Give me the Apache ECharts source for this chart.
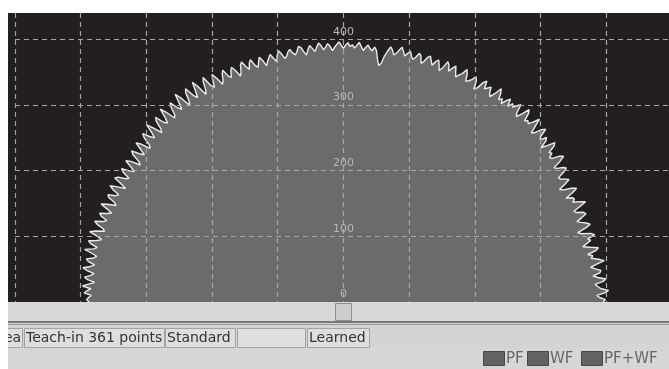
<!DOCTYPE html>
<html>
<head>
<meta charset="utf-8">
<script src="https://cdn.jsdelivr.net/npm/echarts@6/dist/echarts.min.js"></script>
<style>
  html, body { margin: 0; padding: 0; background: #fff; }
  #chart { width: 669px; height: 369px; }
</style>
</head>
<body>
<div id="chart"></div>
<script>
// teach-in profile: radius per sample, 361 samples from 0 deg (right) to 180 deg (left)
const radii = [
  395, 399, 390, 386, 398, 404, 392, 388, 384, 396, 401, 389, 382, 393, 395, 387, 380, 390, 402, 394,
  383, 386, 379, 392, 397, 385, 374, 381, 388, 384, 396, 391, 377, 372, 386, 394, 389, 382, 376, 385,
  393, 390, 380, 377, 389, 399, 391, 381, 385, 383, 374, 387, 395, 388, 376, 371, 382, 391, 386, 380,
  378, 389, 396, 392, 384, 380, 393, 402, 397, 386, 383, 390, 387, 399, 403, 391, 382, 394, 398, 388,
  392, 405, 400, 389, 385, 396, 408, 398, 391, 394, 390, 402, 407, 395, 386, 391, 404, 399, 393, 397,
  389, 400, 395, 386, 393, 388, 398, 404, 392, 384, 388, 397, 393, 389, 401, 396, 384, 380, 393, 398,
  391, 387, 384, 395, 401, 392, 388, 383, 390, 398, 393, 386, 395, 399, 388, 381, 389, 396, 392, 385,
  391, 397, 394, 386, 382, 393, 396, 389, 384, 388, 395, 391, 386, 392, 398, 393, 387, 384, 391, 395,
  388, 380, 368, 364, 373, 386, 391, 385, 388, 393, 389, 384, 390, 396, 391, 387, 392, 389, 395, 391,
  386, 391, 396, 392, 388, 383, 390, 394, 389, 385, 392, 396, 390, 384, 389, 394, 388, 380, 386, 393,
  395, 388, 383, 387, 393, 390, 384, 381, 389, 395, 389, 380, 386, 393, 392, 384, 378, 388, 394, 387,
  380, 385, 395, 391, 382, 388, 397, 393, 383, 378, 389, 396, 391, 382, 386, 398, 393, 384, 379, 391,
  400, 392, 381, 387, 403, 397, 385, 379, 395, 406, 393, 382, 389, 404, 399, 386, 380, 396, 407, 394,
  383, 389, 402, 396, 384, 380, 394, 405, 391, 382, 387, 401, 396, 383, 378, 392, 403, 390, 381, 388,
  399, 393, 380, 376, 390, 398, 387, 377, 384, 396, 391, 378, 373, 388, 395, 385, 375, 382, 394, 389,
  377, 381, 392, 396, 384, 374, 386, 397, 390, 379, 383, 394, 391, 380, 376, 389, 398, 387, 378, 385,
  395, 391, 381, 386, 398, 393, 383, 379, 392, 401, 389, 380, 387, 399, 395, 384, 389, 402, 391, 382,
  386, 397, 393, 383, 389, 400, 393, 382, 387, 396, 391, 380, 389, 398, 385, 391, 395, 384, 388, 391,
  387
];
// sample angles, half a degree apart
const angles = radii.map((r, i) => i * 0.5);

const statusPanels = [
  { text: 'ea', x: 2, w: 20 },
  { text: 'Teach-in 361 points', x: 24, w: 140 },
  { text: 'Standard', x: 165, w: 70 },
  { text: '', x: 237, w: 68 },
  { text: 'Learned', x: 307, w: 62 }
];
const legendItems = [
  { text: 'PF', x: 483 },
  { text: 'WF', x: 527 },
  { text: 'PF+WF', x: 581 }
];

const FONT = "'DejaVu Sans', 'Liberation Sans', sans-serif";
const COLORS = {
  bg: '#231f20',
  fill: '#6b6b6b',
  line: '#ebebeb',
  grid: '#a6a6a6',
  label: '#b8b8b8',
  panel: '#d4d4d4',
  text: '#333333'
};

// pixel layout: same px per unit on both axes
const Y0 = 302;
const X0 = 343.4;
const PX = 289 / 440;

const chart = echarts.init(document.getElementById('chart'));

const graphics = [
  { type: 'rect', shape: { x: 0, y: 0, width: 669, height: 13 }, style: { fill: '#fff' }, z: 100 },
  // scrollbar
  { type: 'rect', shape: { x: 8, y: 302, width: 661, height: 20 }, style: { fill: '#d8d8d8' }, z: 100 },
  { type: 'rect', shape: { x: 335.5, y: 303.5, width: 16, height: 17 }, style: { fill: '#cdcdcd', stroke: '#8f8f8f', lineWidth: 1 }, z: 101 },
  { type: 'rect', shape: { x: 8, y: 321, width: 661, height: 1.5 }, style: { fill: '#777' }, z: 101 },
  { type: 'rect', shape: { x: 8, y: 322.5, width: 661, height: 47 }, style: { fill: COLORS.panel }, z: 100 },
  { type: 'rect', shape: { x: 8, y: 324, width: 661, height: 1 }, style: { fill: '#999' }, z: 101 },
  { type: 'rect', shape: { x: 8, y: 348, width: 661, height: 21 }, style: { fill: '#d6d6d6' }, z: 100 }
];
statusPanels.forEach(p => {
  graphics.push({
    type: 'rect',
    shape: { x: p.x + 0.5, y: 328.5, width: p.w, height: 19 },
    style: { fill: '#dedede', stroke: '#a3a3a3', lineWidth: 1 },
    z: 101
  });
  graphics.push({
    type: 'text',
    x: p.x + 2, y: 338.5,
    style: { text: p.text, fill: COLORS.text, font: '14px ' + FONT, verticalAlign: 'middle' },
    z: 102
  });
});
legendItems.forEach(l => {
  graphics.push({
    type: 'rect',
    shape: { x: l.x + 0.5, y: 351.5, width: 21, height: 14 },
    style: { fill: '#626262', stroke: '#474747', lineWidth: 1 },
    z: 101
  });
  graphics.push({
    type: 'text',
    x: l.x + 23, y: 359,
    style: { text: l.text, fill: '#666', font: '15px ' + FONT, verticalAlign: 'middle' },
    z: 102
  });
});
graphics.push({ type: 'rect', shape: { x: 0, y: 0, width: 8, height: 369 }, style: { fill: '#fff' }, z: 110 });

chart.setOption({
  animation: false,
  backgroundColor: COLORS.bg,
  grid: { left: 15, right: 0, top: 13, bottom: 369 - Y0, outerBoundsMode: 'none' },
  xAxis: {
    type: 'value',
    min: -500,
    max: -500 + 654 / PX,
    interval: 100,
    z: 3,
    axisLine: { show: false, onZero: false },
    axisTick: { show: false },
    axisLabel: { show: false },
    splitLine: {
      show: true, showMinLine: true, showMaxLine: false,
      lineStyle: { color: COLORS.grid, type: [5, 4], width: 1.2 }
    }
  },
  yAxis: {
    type: 'value',
    min: 0,
    max: 440,
    interval: 100,
    z: 3,
    // move the label column onto x = 0
    offset: -(X0 - 15),
    axisLine: { show: false, onZero: false },
    axisTick: { show: false },
    axisLabel: {
      showMaxLabel: false,
      margin: 0,
      align: 'center',
      verticalAlign: 'bottom',
      padding: [0, 0, 2, 0],
      color: COLORS.label,
      fontFamily: FONT,
      fontSize: 11
    },
    splitLine: {
      show: true, showMinLine: false, showMaxLine: false,
      lineStyle: { color: COLORS.grid, type: [5, 4], width: 1.2 }
    }
  },
  polar: { center: [X0, Y0], radius: 500 * PX },
  angleAxis: { type: 'value', min: 0, max: 360, startAngle: 0, clockwise: false, show: false },
  radiusAxis: { type: 'value', min: 0, max: 500, show: false },
  series: [{
    type: 'line',
    coordinateSystem: 'polar',
    data: radii.map((r, i) => [r, angles[i]]),
    symbol: 'none',
    z: 2,
    lineStyle: { color: COLORS.line, width: 1.4 },
    areaStyle: { color: COLORS.fill, opacity: 1 }
  }],
  graphic: graphics
});
</script>
</body>
</html>
